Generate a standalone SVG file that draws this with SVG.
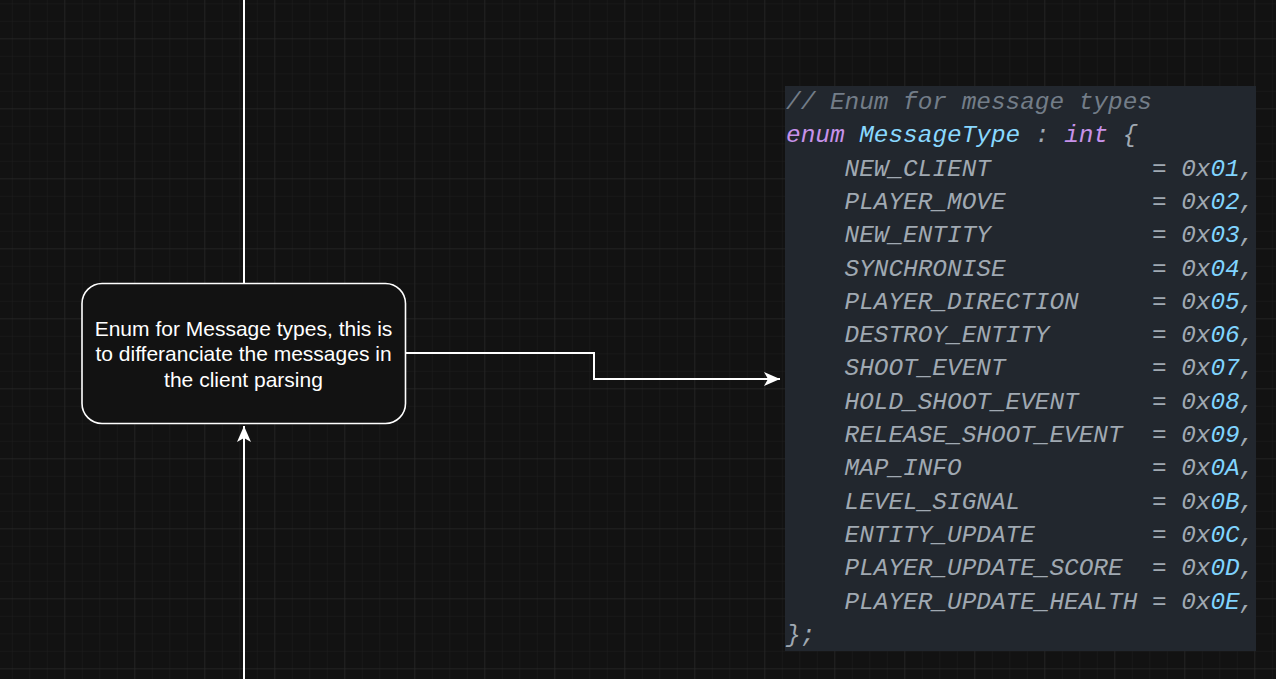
<svg xmlns="http://www.w3.org/2000/svg" width="1276" height="679" viewBox="0 0 1276 679">
<defs>
<pattern id="minor" patternUnits="userSpaceOnUse" x="64.3" y="38.3" width="17.5" height="17.5">
<path d="M0 0H17.5M0 0V17.5" fill="none" stroke="#1e1e1e" stroke-width="1"/>
</pattern>
<pattern id="major" patternUnits="userSpaceOnUse" x="64.3" y="38.3" width="70" height="70">
<path d="M0 0H70M0 0V70" fill="none" stroke="#2a2a2a" stroke-width="1"/>
</pattern>
<marker id="arrow" markerUnits="userSpaceOnUse" markerWidth="20" markerHeight="20" viewBox="0 0 20 20" refX="17" refY="10" orient="auto">
<path d="M1 3 L17 10 L1 17 L5 10 Z" fill="#ffffff"/>
</marker>
<style>
.edge{fill:none;stroke:#ffffff;stroke-width:2}
.node{fill:#121212;stroke:#ffffff;stroke-width:1.6}
.label{font-family:"Liberation Sans",Arial,sans-serif;font-size:21px;fill:#ffffff;text-anchor:middle}
.code{font-family:"Liberation Mono","DejaVu Sans Mono",monospace;font-size:24.4px;font-style:italic;fill:#a0a9b2;white-space:pre}
.cm{fill:#737d88}
.kw{fill:#c792ea}
.ty{fill:#89d8ff}
.num{fill:#80d4ff}
</style>
</defs>
<rect width="1276" height="679" fill="#121212"/>
<rect width="1276" height="679" fill="url(#minor)"/>
<rect width="1276" height="679" fill="url(#major)"/>

<g id="connectors">
<path class="edge" d="M244 0 V283.5"/>
<path class="edge" d="M244 679 V426" marker-end="url(#arrow)"/>
<path class="edge" d="M405.5 353 H594 V379 H780" marker-end="url(#arrow)"/>
</g>

<g id="node-enum-note">
<rect class="node" x="82" y="283.5" width="323.5" height="140" rx="20" ry="20"/>
<text class="label" x="243.5" y="335.5">Enum for Message types, this is</text>
<text class="label" x="243.5" y="361">to differanciate the messages in</text>
<text class="label" x="243.5" y="386.5">the client parsing</text>
</g>

<g id="node-code">
<rect x="785" y="86" width="471" height="565" fill="#22272e"/>
<text class="code" x="786" y="109"><tspan class="cm">// Enum for message types</tspan></text>
<text class="code" x="786" y="142.3"><tspan class="kw">enum</tspan> <tspan class="ty">MessageType</tspan> : <tspan class="kw">int</tspan> {</text>
<text class="code" x="786" y="175.6">    NEW_CLIENT           = 0x<tspan class="num">01</tspan>,</text>
<text class="code" x="786" y="208.9">    PLAYER_MOVE          = 0x<tspan class="num">02</tspan>,</text>
<text class="code" x="786" y="242.2">    NEW_ENTITY           = 0x<tspan class="num">03</tspan>,</text>
<text class="code" x="786" y="275.5">    SYNCHRONISE          = 0x<tspan class="num">04</tspan>,</text>
<text class="code" x="786" y="308.8">    PLAYER_DIRECTION     = 0x<tspan class="num">05</tspan>,</text>
<text class="code" x="786" y="342.1">    DESTROY_ENTITY       = 0x<tspan class="num">06</tspan>,</text>
<text class="code" x="786" y="375.4">    SHOOT_EVENT          = 0x<tspan class="num">07</tspan>,</text>
<text class="code" x="786" y="408.7">    HOLD_SHOOT_EVENT     = 0x<tspan class="num">08</tspan>,</text>
<text class="code" x="786" y="442">    RELEASE_SHOOT_EVENT  = 0x<tspan class="num">09</tspan>,</text>
<text class="code" x="786" y="475.3">    MAP_INFO             = 0x<tspan class="num">0A</tspan>,</text>
<text class="code" x="786" y="508.6">    LEVEL_SIGNAL         = 0x<tspan class="num">0B</tspan>,</text>
<text class="code" x="786" y="541.9">    ENTITY_UPDATE        = 0x<tspan class="num">0C</tspan>,</text>
<text class="code" x="786" y="575.2">    PLAYER_UPDATE_SCORE  = 0x<tspan class="num">0D</tspan>,</text>
<text class="code" x="786" y="608.5">    PLAYER_UPDATE_HEALTH = 0x<tspan class="num">0E</tspan>,</text>
<text class="code" x="786" y="641.8">};</text>
</g>
</svg>
